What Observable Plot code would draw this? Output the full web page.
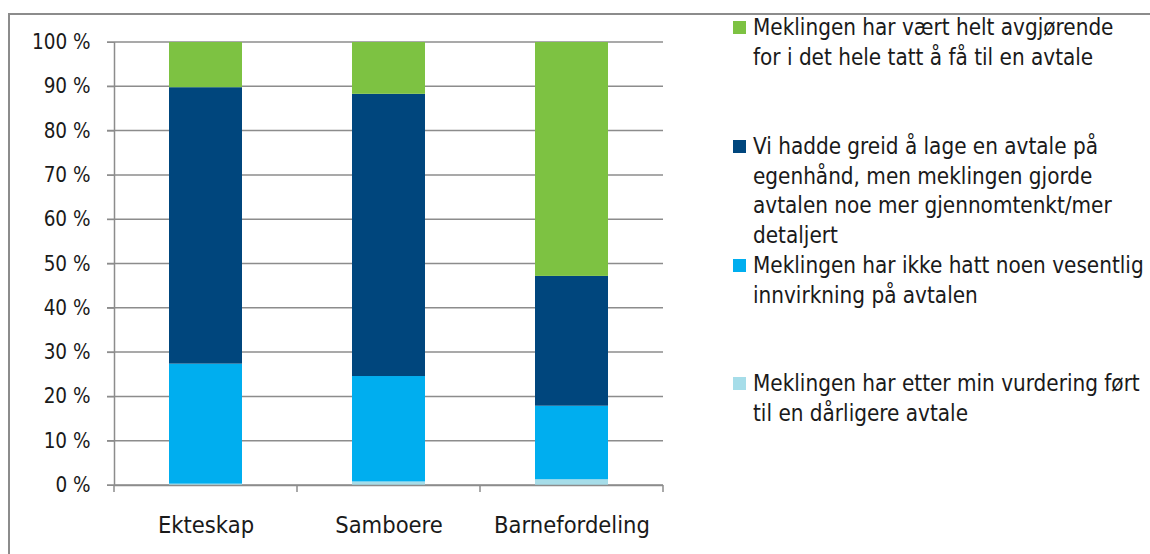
<!DOCTYPE html>
<html>
<head>
<meta charset="utf-8">
<script src="https://cdn.jsdelivr.net/npm/d3@7"></script>
<script src="https://cdn.jsdelivr.net/npm/@observablehq/plot@0.6"></script>
<style>
  html, body { margin: 0; padding: 0; background: #fff; }
  #wrap { position: relative; width: 1150px; height: 554px; overflow: hidden;
          font-family: "DejaVu Sans Condensed", "Liberation Sans Narrow", sans-serif; }
  #frame { position: absolute; left: 8px; top: 13px; width: 1150px; height: 560px;
           border-top: 2px solid #8c8c8c; border-left: 2px solid #8c8c8c; pointer-events: none; }
  #legend { position: absolute; left: 733px; top: 0; width: 420px; color: #1a1a1a; font-size: 22.3px; }
  .item { position: absolute; left: 0; display: flex; align-items: flex-start; }
  .sw { width: 13px; height: 13px; margin-top: 8px; margin-right: 7px; flex: none; }
  .txt { line-height: 29.5px; white-space: pre-line; }
  svg { position: absolute; left: 0; top: 0; }
</style>
</head>
<body>
<div id="wrap"><div id="frame"></div><div id="legend"></div></div>
<script>
const categories = ["Ekteskap", "Samboere", "Barnefordeling"];
const seriesNames = [
  "Meklingen har etter min vurdering ført\ntil en dårligere avtale",
  "Meklingen har ikke hatt noen vesentlig\ninnvirkning på avtalen",
  "Vi hadde greid å lage en avtale på\negenhånd, men meklingen gjorde\navtalen noe mer gjennomtenkt/mer\ndetaljert",
  "Meklingen har vært helt avgjørende\nfor i det hele tatt å få til en avtale"
];
const seriesColors = ["#a6dde9", "#00aeef", "#00467d", "#7dc242"];
// values in %, per series, per category (Ekteskap, Samboere, Barnefordeling)
const darligere   = [0.3, 0.8, 1.3];
const ingenEffekt = [27.1, 23.8, 16.6];
const merGjennom  = [62.4, 63.7, 29.3];
const avgjorende  = [10.2, 11.7, 52.8];
const yTicks = [0, 10, 20, 30, 40, 50, 60, 70, 80, 90, 100];

const seriesValues = [darligere, ingenEffekt, merGjennom, avgjorende];
const rows = [];
seriesNames.forEach((s, i) => categories.forEach((c, j) => rows.push({cat: c, series: s, value: seriesValues[i][j]})));

const W = 1150, H = 554, mL = 114, mR = 487;
const step = (W - mL - mR) / categories.length;
const boundaries = categories.map(c => ({cat: c, side: -1})).concat([{cat: categories[categories.length - 1], side: 1}]);
const FONT = '"DejaVu Sans Condensed", "Liberation Sans Narrow", sans-serif';

const chart = Plot.plot({
  width: W, height: H,
  marginLeft: mL, marginRight: mR, marginTop: 42, marginBottom: 69,
  style: {fontFamily: FONT, fontSize: "20px", color: "#1a1a1a", background: "transparent"},
  x: {domain: categories, paddingInner: 0.6, paddingOuter: 0.3, label: null},
  y: {domain: [0, 100], label: null},
  color: {domain: seriesNames, range: seriesColors},
  marks: [
    Plot.barY(rows, {x: "cat", y: "value", fill: "series", order: seriesNames}),
    Plot.axisY({ticks: yTicks, tickFormat: d => d + " %", tickSize: 7, tickPadding: 17, stroke: "#8c8c8c", fontSize: 20.5}),
    Plot.axisX({tickSize: 0, tickPadding: 31, fontSize: 23.5}),
    Plot.ruleX([0], {x: () => categories[0], y1: 0, y2: 100, dx: -step / 2, stroke: "#8c8c8c", strokeWidth: 1.5}),
    Plot.ruleY([0], {stroke: "#8c8c8c", strokeWidth: 1.5})
  ]
});
document.getElementById("wrap").appendChild(chart);

// gridlines and boundary ticks using the chart's scales
const xs = chart.scale("x"), ys = chart.scale("y");
const svg = d3.select(chart);
const left = mL, right = W - mR;
const g = svg.insert("g", ":first-child").attr("stroke", "#8c8c8c").attr("stroke-width", 1.5);
yTicks.forEach(t => g.append("line").attr("x1", left - 7).attr("x2", right).attr("y1", ys.apply(t)).attr("y2", ys.apply(t)));
const bg = svg.append("g").attr("stroke", "#8c8c8c").attr("stroke-width", 1.5);
boundaries.forEach(b => {
  const cx = xs.apply(b.cat) + xs.bandwidth / 2 + b.side * step / 2;
  bg.append("line").attr("x1", cx).attr("x2", cx).attr("y1", ys.apply(0)).attr("y2", ys.apply(0) + 7);
});

const legend = document.getElementById("legend");
const tops = [13, 132, 251, 369];
const legendOrder = [3, 2, 1, 0];
legendOrder.forEach((si, k) => {
  const it = document.createElement("div");
  it.className = "item";
  it.style.top = tops[k] + "px";
  it.innerHTML = `<div class="sw" style="background:${seriesColors[si]}"></div><div class="txt"></div>`;
  it.querySelector(".txt").textContent = seriesNames[si];
  legend.appendChild(it);
});
</script>
</body>
</html>
